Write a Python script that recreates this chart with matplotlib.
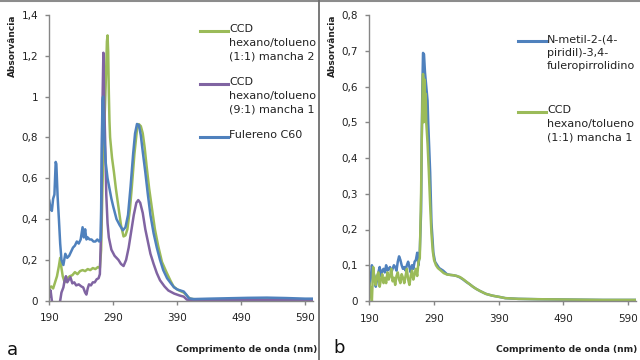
import matplotlib
matplotlib.use("Agg")
import matplotlib.pyplot as plt
from matplotlib.lines import Line2D
from matplotlib.transforms import Bbox, TransformedBbox

# ---- panel a: CCD fractions vs C60 ----
wl_a_green = [190, 193, 196, 199, 202, 205, 207, 209, 211, 214, 218, 222, 226, 230, 234,
              238, 242, 246, 250, 254, 258, 262, 266, 269, 271, 273, 275, 277, 279, 280,
              281, 282, 283, 284, 285, 288, 291, 294, 298, 302, 306, 309, 312, 316, 319,
              323, 327, 330, 333, 336, 339, 342, 346, 350, 355, 360, 366, 373, 379, 384,
              390, 395, 400, 405, 410, 420, 450, 500, 550, 605]
abs_a_green = [0.06, 0.07, 0.06, 0.09, 0.12, 0.17, 0.21, 0.16, 0.12, 0.09, 0.11, 0.12, 0.125, 0.14, 0.13,
               0.145, 0.15, 0.145, 0.155, 0.15, 0.16, 0.155, 0.165, 0.16, 0.25, 0.55, 0.8, 0.95, 1.15, 1.27,
               1.30, 1.22, 1.02, 0.88, 0.80, 0.70, 0.63, 0.55, 0.46, 0.37, 0.315, 0.32, 0.35, 0.45, 0.56,
               0.72, 0.84, 0.865, 0.855, 0.82, 0.75, 0.66, 0.55, 0.46, 0.35, 0.27, 0.19, 0.14, 0.10, 0.07,
               0.055, 0.047, 0.04, 0.025, 0.01, 0.006, 0.005, 0.006, 0.006, 0.005]

wl_a_purple = [190, 191, 192, 194, 196, 200, 204, 207, 209, 212, 214, 216, 218, 220, 223,
               226, 229, 232, 236, 240, 243, 246, 248, 250, 252, 255, 258, 261, 264, 267,
               269, 271, 273, 274.5, 276, 277.5, 279, 281, 283, 287, 292, 298, 302, 306, 310,
               314, 318, 322, 326, 329, 332, 336, 340, 344, 348, 353, 358, 363, 370, 376,
               385, 394, 400, 405, 420, 500, 605]
abs_a_purple = [0.05, 0.02, 0.05, 0.0, -0.02, -0.03, -0.02, 0.0, 0.04, 0.065, 0.1, 0.12, 0.09, 0.1, 0.115,
                0.085, 0.09, 0.075, 0.08, 0.07, 0.065, 0.04, 0.03, 0.06, 0.08, 0.075, 0.09, 0.09, 0.105, 0.11,
                0.13, 0.35, 0.95, 1.215, 0.95, 0.75, 0.52, 0.38, 0.31, 0.25, 0.22, 0.20, 0.18, 0.17, 0.2,
                0.26, 0.34, 0.42, 0.48, 0.493, 0.48, 0.43, 0.35, 0.29, 0.23, 0.18, 0.135, 0.10, 0.07, 0.05,
                0.035, 0.025, 0.02, 0.005, 0.003, 0.003, 0.003]

wl_a_blue = [190, 192, 194, 196, 198, 200, 201, 203, 205, 207, 209, 212, 215, 218, 221,
             224, 227, 230, 233, 236, 239, 242, 244, 246, 248, 250, 253, 256, 259, 262,
             265, 268, 270, 271, 272, 273, 274, 276, 278, 281, 284, 287, 290, 295, 300,
             305, 309, 313, 317, 321, 324, 327, 330, 333, 336, 340, 344, 348, 353, 358,
             363, 368, 374, 380, 385, 390, 395, 400, 404, 408, 415, 440, 470, 500, 530,
             560, 590, 605]
abs_a_blue = [0.49, 0.45, 0.44, 0.5, 0.52, 0.68, 0.67, 0.51, 0.4, 0.28, 0.2, 0.175, 0.23, 0.21, 0.22,
              0.24, 0.26, 0.27, 0.29, 0.28, 0.3, 0.36, 0.31, 0.35, 0.3, 0.31, 0.30, 0.3, 0.29, 0.29,
              0.3, 0.29, 0.30, 0.45, 0.75, 0.98, 1.0, 0.80, 0.68, 0.60, 0.55, 0.50, 0.46, 0.40, 0.37,
              0.345, 0.36, 0.42, 0.56, 0.72, 0.82, 0.866, 0.86, 0.81, 0.73, 0.63, 0.52, 0.42, 0.33, 0.26,
              0.20, 0.15, 0.11, 0.085, 0.065, 0.055, 0.05, 0.045, 0.03, 0.012, 0.008, 0.01, 0.012, 0.014, 0.015,
              0.013, 0.01, 0.01]

# ---- panel b: pyrrolidine vs CCD 1:1 spot 1 ----
wl_b_blue = [190, 192, 194, 196, 198, 200, 202, 204, 206, 208, 210, 212, 214, 216, 218,
             220, 222, 224, 226, 228, 230, 232, 234, 236, 238, 240, 242, 244, 246, 248,
             250, 252, 254, 256, 258, 260, 262, 264, 266, 268, 270, 271, 272, 273, 274.5,
             276, 278, 280, 281, 284, 286, 289, 291.5, 295, 298, 304, 310, 315, 320, 325,
             330, 335, 340, 345, 350, 355, 361, 370, 380, 392, 400, 420, 450, 500, 550, 605]
abs_b_blue = [0.04, 0.06, 0.10, 0.08, 0.07, 0.04, 0.06, 0.08, 0.095, 0.07, 0.085, 0.09, 0.08, 0.10, 0.085,
              0.09, 0.095, 0.08, 0.09, 0.1, 0.095, 0.085, 0.11, 0.125, 0.115, 0.10, 0.09, 0.095, 0.085, 0.1,
              0.11, 0.095, 0.08, 0.1, 0.09, 0.11, 0.115, 0.135, 0.10, 0.14, 0.25, 0.45, 0.6, 0.694, 0.69,
              0.64, 0.60, 0.56, 0.50, 0.36, 0.22, 0.135, 0.11, 0.10, 0.092, 0.085, 0.075, 0.073, 0.072, 0.07,
              0.066, 0.06, 0.053, 0.047, 0.04, 0.034, 0.028, 0.02, 0.015, 0.011, 0.008, 0.006, 0.005, 0.004, 0.003, 0.003]

wl_b_green = [190, 192, 194, 196, 198, 200, 202, 204, 206, 208, 210, 212, 214, 216, 218,
              220, 222, 224, 226, 228, 230, 232, 234, 236, 238, 240, 242, 244, 246, 248,
              250, 252, 254, 256, 258, 260, 262, 264, 266, 268, 270, 271, 272, 273, 274,
              275, 276, 277, 278, 280, 282, 284, 286, 288, 290, 293, 296, 300, 305, 310,
              315, 320, 325, 330, 335, 340, 345, 350, 355, 361, 370, 380, 392, 400, 420,
              450, 500, 550, 605]
abs_b_green = [0.05, 0.03, 0.0, 0.095, 0.06, 0.045, 0.07, 0.08, 0.04, 0.06, 0.075, 0.05, 0.065, 0.05, 0.08,
               0.06, 0.07, 0.09, 0.055, 0.065, 0.045, 0.07, 0.08, 0.06, 0.05, 0.075, 0.065, 0.05, 0.07, 0.09,
               0.06, 0.045, 0.07, 0.085, 0.06, 0.075, 0.09, 0.07, 0.11, 0.12, 0.3, 0.45, 0.55, 0.635, 0.50,
               0.62, 0.55, 0.58, 0.50, 0.44, 0.36, 0.27, 0.19, 0.14, 0.115, 0.10, 0.092, 0.086, 0.078, 0.074,
               0.073, 0.072, 0.07, 0.067, 0.061, 0.054, 0.047, 0.04, 0.034, 0.028, 0.02, 0.015, 0.011, 0.008, 0.006,
               0.005, 0.004, 0.003, 0.003]

x_ticks = [190, 290, 390, 490, 590]
y_ticks_a = [0, 0.2, 0.4, 0.6, 0.8, 1, 1.2, 1.4]
y_ticks_b = [0, 0.1, 0.2, 0.3, 0.4, 0.5, 0.6, 0.7, 0.8]

labels_a = ["CCD\nhexano/tolueno\n(1:1) mancha 2",
            "CCD\nhexano/tolueno\n(9:1) mancha 1",
            "Fulereno C60"]
labels_b = ["N-metil-2-(4-\npiridil)-3,4-\nfuleropirrolidino",
            "CCD\nhexano/tolueno\n(1:1) mancha 1"]

GREEN = "#9bbb59"
PURPLE = "#8064a2"
BLUE = "#4f81bd"
AXIS = "#868686"
W, H = 640, 360


def fmt(v):
    s = ("%g" % v)
    return s.replace(".", ",")


def style_axis(ax, yticks, ymax):
    ax.set_xlim(190, 602)
    ax.set_ylim(0, ymax)
    ax.set_xticks(x_ticks)
    ax.set_xticklabels([str(t) for t in x_ticks])
    ax.set_yticks(yticks)
    ax.set_yticklabels([fmt(t) for t in yticks])
    for side in ("top", "right"):
        ax.spines[side].set_visible(False)
    for side in ("left", "bottom"):
        ax.spines[side].set_color(AXIS)
        ax.spines[side].set_linewidth(1.0)
    ax.tick_params(axis="both", colors=AXIS, labelcolor="#222222", labelsize=7.5,
                   length=3, width=1.0, direction="out")
    ax.tick_params(axis="x", pad=6)
    ax.tick_params(axis="y", pad=5)
    ax.patch.set_alpha(0)


def legend_entry(fig, x0, y0, text, color):
    fig.add_artist(Line2D([x0 / W, (x0 + 28) / W], [1 - y0 / H, 1 - y0 / H],
                          color=color, lw=2.2, transform=fig.transFigure))
    fig.text((x0 + 29) / W, 1 - y0 / H, text, fontsize=8, color="#222222",
             va="top", ha="left", linespacing=1.45,
             transform=fig.transFigure).set_y(1 - (y0 - 7) / H)


def main():
    fig = plt.figure(figsize=(6.4, 3.6), dpi=100, facecolor="white")

    ax_a = fig.add_axes([49.3 / W, (H - 300.7) / H, (313 - 49.3) / W, (300.7 - 15) / H])
    ax_a.plot(wl_a_green, abs_a_green, color=GREEN, lw=1.8)
    ax_a.plot(wl_a_purple, abs_a_purple, color=PURPLE, lw=1.8)
    ax_a.plot(wl_a_blue, abs_a_blue, color=BLUE, lw=1.8)
    style_axis(ax_a, y_ticks_a, 1.4)

    ax_b = fig.add_axes([369.3 / W, (H - 301) / H, (636 - 369.3) / W, (301 - 15) / H])
    ax_b.plot(wl_b_blue, abs_b_blue, color=BLUE, lw=1.8)
    ax_b.plot(wl_b_green, abs_b_green, color=GREEN, lw=1.8)
    style_axis(ax_b, y_ticks_b, 0.8)

    # clip the last x label of panel a at the divider, like the original
    clip = TransformedBbox(Bbox([[0, 0], [318 / W, 1]]), fig.transFigure)
    for lab in ax_a.get_xticklabels():
        lab.set_clip_on(True)
        lab.set_clip_box(clip)

    # legends
    legend_entry(fig, 200, 31, labels_a[0], GREEN)
    legend_entry(fig, 200, 84, labels_a[1], PURPLE)
    legend_entry(fig, 200, 137, labels_a[2], BLUE)
    legend_entry(fig, 518, 41, labels_b[0], BLUE)
    legend_entry(fig, 518, 112, labels_b[1], GREEN)

    # axis titles
    for x0 in (12, 332):
        fig.text(x0 / W, 1 - 46 / H, "Absorvância", rotation=90, fontsize=6.5,
                 fontweight="bold", color="#222222", ha="center", va="center")
    for x1 in (317, 637):
        fig.text(x1 / W, 1 - 349 / H, "Comprimento de onda (nm)", fontsize=6.6,
                 fontweight="bold", color="#222222", ha="right", va="center")

    fig.text(12 / W, 1 - 350 / H, "a", fontsize=13, color="#111111", ha="center", va="center")
    fig.text(339 / W, 1 - 348 / H, "b", fontsize=13, color="#111111", ha="center", va="center")

    # frame lines
    fig.add_artist(Line2D([0, 1], [1 - 1 / H, 1 - 1 / H], color="#8c8c8c", lw=1.5,
                          transform=fig.transFigure))
    fig.add_artist(Line2D([319 / W, 319 / W], [0, 1], color="#6e6e6e", lw=1.3,
                          transform=fig.transFigure))

    fig.savefig("out.png", dpi=100, facecolor="white")
    plt.close(fig)


if __name__ == "__main__":
    main()
